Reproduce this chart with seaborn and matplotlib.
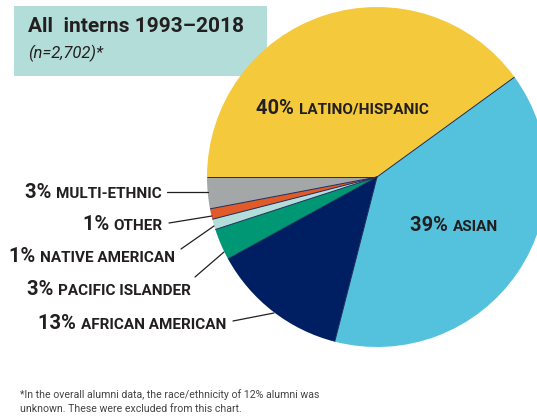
import matplotlib
matplotlib.use("Agg")
import matplotlib.pyplot as plt
import seaborn as sns
import numpy as np
from matplotlib.patches import Rectangle

# ------------------------
# Data
# ------------------------
groups = ["LATINO/HISPANIC", "ASIAN", "AFRICAN AMERICAN", "PACIFIC ISLANDER",
          "NATIVE AMERICAN", "OTHER", "MULTI-ETHNIC"]
shares = [40, 39, 13, 3, 1, 1, 3]
colors = ["#f4ca3c", "#55c2dd", "#001f63", "#009874", "#b3ddd8", "#e05a2a", "#a3a7a8"]

title = "All  interns 1993\u20132018"
subtitle = "(n=2,702)*"
footnote = ("*In the overall alumni data, the race/ethnicity of 12% alumni was\n"
            "unknown. These were excluded from this chart.")

sns.set_theme(style="white")
plt.rcParams['font.family'] = ['Roboto', 'DejaVu Sans']

W, H = 537, 420
fig = plt.figure(figsize=(W / 100, H / 100), dpi=100)
ax = fig.add_axes([0, 0, 1, 1])

cx, cy, r = 377, H - 177, 170
wedges, _ = ax.pie(shares, colors=colors, startangle=180, counterclock=False,
                   center=(cx, cy), radius=r, frame=True,
                   wedgeprops=dict(edgecolor="none", linewidth=0))
# thin dark separators between slices (no outer outline)
for w in wedges:
    a = np.deg2rad(w.theta1)
    ax.plot([cx, cx + r * np.cos(a)], [cy, cy + r * np.sin(a)],
            color="#1d2a5a", lw=0.7, solid_capstyle="butt")
ax.set_xlim(0, W)
ax.set_ylim(0, H)
ax.set_aspect("auto")
ax.axis("off")

# title box
ax.add_patch(Rectangle((14, H - 76), 253, 70, facecolor="#b3ddd8", edgecolor="none", zorder=0))
ax.text(28, H - 27, title, fontsize=15, fontweight="bold", color="#231f20", va="center")
ax.text(28, H - 53, subtitle, fontsize=12, style="italic", color="#231f20", va="center")

fig.canvas.draw()
renderer = fig.canvas.get_renderer()


def label(x_right, y, pct, name, ha="right"):
    t2 = ax.text(0, y, name, fontsize=11, fontweight="bold", color="#231f20",
                 va="baseline")
    t1 = ax.text(0, y, pct + " ", fontsize=14.5, fontweight="bold", color="#231f20",
                 va="baseline")
    w1 = t1.get_window_extent(renderer).width
    w2 = t2.get_window_extent(renderer).width
    if ha == "right":
        x0 = x_right - w1 - w2
    else:
        x0 = x_right - (w1 + w2) / 2
    t1.set_x(x0)
    t2.set_x(x0 + w1)


# side labels (x_right, baseline y in pixels from top, leader line)
side = [
    (162, 198, "3%", "MULTI-ETHNIC", [(167, 192), (208, 192)]),
    (163, 230, "1%", "OTHER", [(169, 223), (212, 216)]),
    (175, 262, "1%", "NATIVE AMERICAN", [(181, 249), (214, 226)]),
    (191, 295, "3%", "PACIFIC ISLANDER", [(195, 277), (224, 252)]),
    (226, 329, "13%", "AFRICAN AMERICAN", [(233, 321), (274, 313)]),
]
for xr, yb, pct, name, line in side:
    label(xr, H - yb, pct, name)
    ax.plot([p[0] for p in line], [H - p[1] for p in line], color="#231f20", lw=0.9)

label(342, H - 114, "40%", "LATINO/HISPANIC", ha="center")
label(454, H - 231, "39%", "ASIAN", ha="center")

ax.text(20, H - 402, footnote, fontsize=7.6, color="#444444", va="center", linespacing=1.5)

fig.savefig("out.png", dpi=100)
